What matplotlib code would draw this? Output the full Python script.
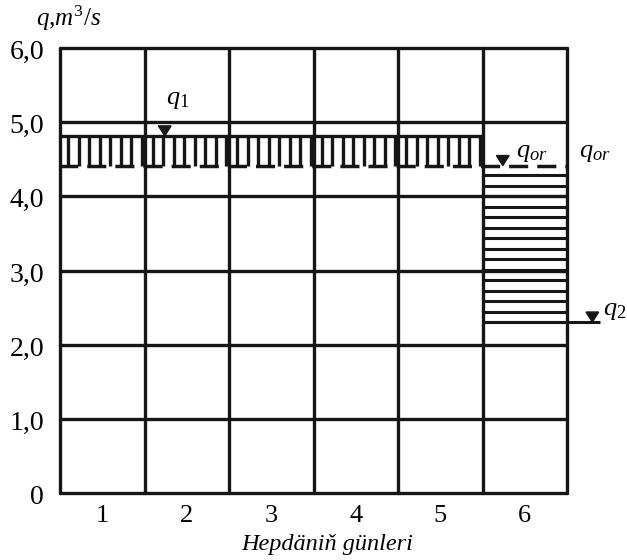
import numpy as np
import matplotlib.pyplot as plt

plt.rcParams['font.family'] = ['Liberation Serif', 'DejaVu Serif']
plt.rcParams['mathtext.fontset'] = 'custom'
plt.rcParams['mathtext.rm'] = 'Liberation Serif'
plt.rcParams['mathtext.it'] = 'Liberation Serif:italic'

# hepdäniň günleri we suw akymy (m3/s)
days = [1, 2, 3, 4, 5, 6]
day_labels = ['1', '2', '3', '4', '5', '6']
y_ticks = [0, 1, 2, 3, 4, 5, 6]
y_labels = ['0', '1,0', '2,0', '3,0', '4,0', '5,0', '6,0']
q1 = 4.81     # artyk akym (1-5 günler)
q_or = 4.41   # ortaça akym
q2 = 2.30     # ýetmezçilik (6-njy gün)
surplus_days = [1, 2, 3, 4, 5]
deficit_days = [6]

ink = '#161616'
lw = 2.4

fig = plt.figure(figsize=(6.27, 5.6), dpi=100)
ax = fig.add_axes([60 / 627, 67 / 560, 507 / 627, 445 / 560])
ax.set_xlim(0.5, 6.5)
ax.set_ylim(0, 6)
ax.axis('off')

# esasy tor
for y in y_ticks:
    ax.plot([0.5, 6.5], [y, y], color=ink, lw=lw, solid_capstyle='round', clip_on=False)
for x in np.arange(0.5, 7.0, 1.0):
    ax.plot([x, x], [0, 6], color=ink, lw=lw, solid_capstyle='round', clip_on=False)

# artyk akym: q1 çyzygy we dik ştrihler
x0, x1 = min(surplus_days) - 0.5, max(surplus_days) + 0.5
ax.plot([x0, x1], [q1, q1], color=ink, lw=lw, solid_capstyle='butt')
for xb in np.arange(x0 + 0.095, x1, 0.125):
    ax.plot([xb, xb], [q_or, q1], color=ink, lw=2.4, solid_capstyle='butt')

# ýetmezçilik: keseligine ştrihler
d0, d1 = min(deficit_days) - 0.5, max(deficit_days) + 0.5
for yh in np.arange(q2, q_or - 0.1, 0.142):
    ax.plot([d0, d1], [yh, yh], color=ink, lw=2.2, solid_capstyle='butt')
ax.plot([d0, 6.89], [q2, q2], color=ink, lw=2.2, solid_capstyle='butt', clip_on=False)

# ortaça akym (ştrih çyzyk)
ax.plot([0.5, 6.5], [q_or, q_or], color=ink, lw=2.5, dash_capstyle='butt',
        linestyle=(0.4, (5.5, 2.6)))


def level_mark(x, y):
    ax.fill([x - 0.075, x + 0.075, x], [y + 0.14, y + 0.14, y + 0.005],
            color=ink, clip_on=False, zorder=5)


level_mark(1.74, q1)
level_mark(5.74, q_or)
level_mark(6.80, q2)

ax.text(1.76, 5.3, r'$q_1$', fontsize=19, va='center', ha='left')
ax.text(5.90, 4.58, r'$q_{or}$', fontsize=19, va='center', ha='left')
ax.text(6.64, 4.58, r'$q_{or}$', fontsize=19, va='center', ha='left', clip_on=False)
ax.text(6.93, 2.45, r'$q_2$', fontsize=19, va='center', ha='left', clip_on=False)

# ok ýazgylary
for y, lab in zip(y_ticks, y_labels):
    ax.text(0.31, y - 0.06, lab, fontsize=20, ha='right', va='center')
for d, lab in zip(days, day_labels):
    ax.text(d, -0.31, lab, fontsize=19, ha='center', va='center')

ax.text(3.66, -0.7, 'Hepdäniň günleri', fontsize=17.5, fontstyle='italic',
        ha='center', va='center')
ax.text(0.22, 6.4, r'$q{,}m^3/s$', fontsize=18, ha='left', va='center')

fig.savefig('out.png', dpi=100)
